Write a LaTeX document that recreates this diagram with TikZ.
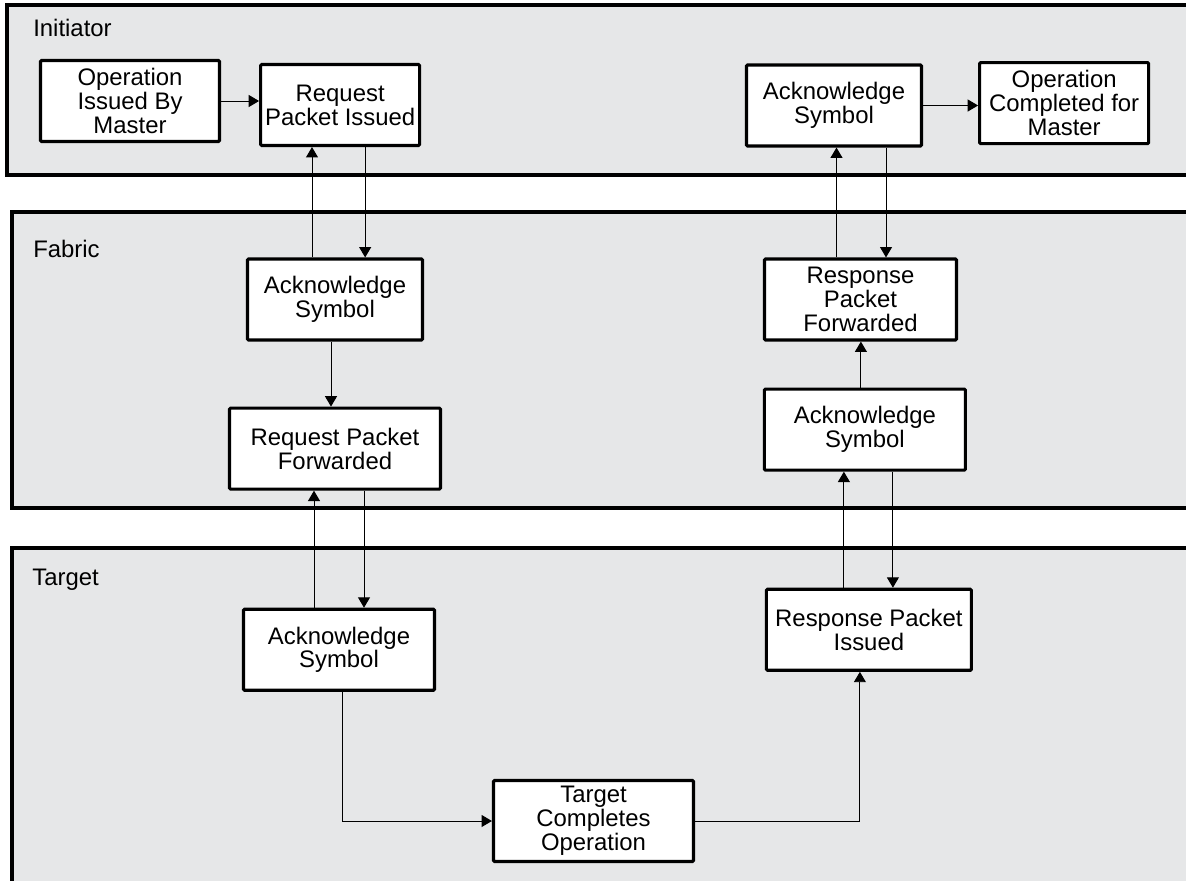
\documentclass[tikz,border=0pt]{standalone}
\usepackage{fontspec}
\setmainfont{Liberation Sans}
\usetikzlibrary{positioning}
\usetikzlibrary{arrows.meta}
\definecolor{lanegray}{RGB}{230,231,232}

\begin{document}
\begin{tikzpicture}[x=0.025cm, y=-0.025cm,
	lane/.style={draw, line width=2.2pt, fill=lanegray},
	lanelabel/.style={anchor=west, inner sep=0pt, font=\fontsize{17}{17}\selectfont},
	box/.style={draw, fill=white, line width=2.2pt, rounded corners=0.8pt, align=center, inner sep=0pt, minimum height=2.025cm, font=\fontsize{17}{17}\selectfont},
	flow/.style={-{Triangle[length=0.26cm, width=0.3cm]}, line width=0.7pt}]
			\useasboundingbox (0,0) rectangle (1186,881);
			\clip (0,0) rectangle (1186,881);
			
			\draw[lane] (7,5) rectangle (1200,175);
			\draw[lane] (12,212) rectangle (1200,508);
			\draw[lane] (12,548) rectangle (1200,900);
			\node[lanelabel] (Ini) at (33,28) {Initiator};
			\node[lanelabel] (Fab) at (33,249) {Fabric};
			\node[lanelabel] (Tgt) at (32,580) {Target};
			
			\node[box, minimum width=4.475cm] (OpIssued) at (130,101) {Operation\\Issued By\\Master};
			\node[box, minimum width=3.975cm, right = 0.95cm of OpIssued, yshift=-0.1cm] (ReqIssued) {Request\\Packet Issued};
			\node[box, minimum width=4.375cm] (AckIni) at (834,105.5) {Acknowledge\\Symbol};
			\node[box, minimum width=4.225cm, right = 1.375cm of AckIni, yshift=0.06cm] (OpDone) {Operation\\Completed for\\Master};
			
			\node[box, minimum width=4.375cm] (AckFabL) at (335,299.5) {Acknowledge\\Symbol};
			\node[box, minimum width=5.275cm, below = 1.625cm of AckFabL] (ReqFwd) {Request Packet\\Forwarded};
			\node[box, minimum width=4.8cm] (RspFwd) at (860.5,299.5) {Response\\Packet\\Forwarded};
			\node[box, minimum width=5.025cm, below = 1.15cm of RspFwd, xshift=0.11cm] (AckFabR) {Acknowledge\\Symbol};
			
			\node[box, minimum width=4.775cm, below = 2.925cm of ReqFwd, xshift=0.1cm] (AckTgt) {Acknowledge\\Symbol};
			\node[box, minimum width=5.125cm, below = 2.9cm of AckFabR, xshift=0.1cm] (RspIssued) {Response Packet\\Issued};
			\node[box, minimum width=5cm] (TgtDone) at (593.5,821) {Target\\Completes\\Operation};
			
			\draw[flow] (OpIssued.east) -- (OpIssued.east -| ReqIssued.west);
			\draw[flow] ([xshift=-0.575cm]AckFabL.north) -- ([xshift=-0.575cm]AckFabL.north |- ReqIssued.south);
			\draw[flow] ([xshift=0.625cm]ReqIssued.south) -- ([xshift=0.625cm]ReqIssued.south |- AckFabL.north);
			\draw[flow] ([xshift=-0.1cm]AckFabL.south) -- ([xshift=-0.1cm]AckFabL.south |- ReqFwd.north);
			\draw[flow] ([xshift=-0.625cm]AckTgt.north) -- ([xshift=-0.625cm]AckTgt.north |- ReqFwd.south);
			\draw[flow] ([xshift=0.725cm]ReqFwd.south) -- ([xshift=0.725cm]ReqFwd.south |- AckTgt.north);
			\draw[flow] ([xshift=0.075cm]AckTgt.south) |- (TgtDone.west);
			\draw[flow] (TgtDone.east) -| ([xshift=-0.225cm]RspIssued.south);
			\draw[flow] ([xshift=-0.625cm]RspIssued.north) -- ([xshift=-0.625cm]RspIssued.north |- AckFabR.south);
			\draw[flow] ([xshift=0.7cm]AckFabR.south) -- ([xshift=0.7cm]AckFabR.south |- RspIssued.north);
			\draw[flow] ([xshift=-0.1cm]AckFabR.north) -- ([xshift=-0.1cm]AckFabR.north |- RspFwd.south);
			\draw[flow] ([xshift=-0.6cm]RspFwd.north) -- ([xshift=-0.6cm]RspFwd.north |- AckIni.south);
			\draw[flow] ([xshift=1.3cm]AckIni.south) -- ([xshift=1.3cm]AckIni.south |- RspFwd.north);
			\draw[flow] (AckIni.east) -- (AckIni.east -| OpDone.west);
\end{tikzpicture}
\end{document}
